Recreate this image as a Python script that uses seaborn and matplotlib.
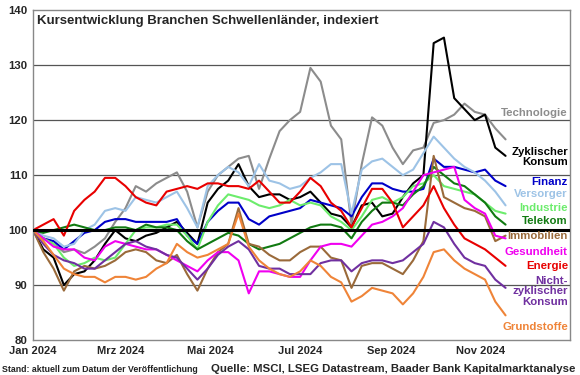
import pandas as pd
import seaborn as sns
import matplotlib.pyplot as plt
import matplotlib.transforms as mtransforms

# weekly readings, Jan 1 2024 .. Nov 18 2024 (index, start = 100)
dates = pd.date_range('2024-01-01', periods=47, freq='7D')

technologie = [100, 98.5, 97.5, 96, 96.5, 95.8, 97, 98.5, 101.5, 104, 108, 107, 108.5, 109.5, 110.5, 107,
               100.5, 107, 110, 111.5, 113, 113.5, 107.5, 113, 118, 120, 121.5, 129.5, 127, 119, 116.5, 101,
               112, 120.5, 119, 115, 112, 114.5, 115, 119.5, 120, 121, 123, 121.5, 121, 118.5, 116.5]
zykl_konsum = [100, 96.5, 95, 90, 92, 92.5, 94.5, 97.5, 100, 98.5, 98, 99, 99.5, 100.5, 101.5, 99.5,
               97.5, 105, 107.5, 109, 112, 108, 106, 106.5, 106.5, 105.5, 106, 107, 105, 103, 102.5, 100.5,
               104.5, 105, 102.5, 103, 106, 108.5, 110, 134, 135, 124, 122, 120, 121, 115, 113.5]
finanz = [100, 98.5, 98, 96.5, 98, 99.5, 100, 101.5, 102, 102, 101.5, 101.5, 101.5, 101.5, 102, 99,
          97.5, 101.5, 103.5, 105, 105, 102, 101, 102.5, 103, 103.5, 104, 105.5, 105, 104.5, 104, 102.5,
          106, 108.5, 108.5, 107.5, 107, 107, 107.5, 113, 111.5, 111.5, 111, 110.5, 111, 109, 108]
versorger = [100, 99, 98.5, 97, 97.5, 100, 101, 103.5, 104, 103.5, 106, 105.5, 105, 106, 107, 104,
             100.5, 108, 110, 111.5, 110.5, 108, 112, 109, 108.5, 107.5, 108, 109.5, 110.5, 112, 112, 103,
             111, 112.5, 113, 111.5, 110, 111, 114, 117, 115, 113, 111.5, 110.5, 109, 107, 104.5]
industrie = [100, 98.5, 97.5, 95, 93.5, 94, 95, 94.5, 95, 97.5, 100, 100.5, 100.5, 101, 101, 99,
             96.5, 101.5, 104.5, 106.5, 106, 105.5, 104.5, 104, 104.5, 105.5, 104.5, 105, 104.5, 102.5, 101.5, 100,
             102.5, 105.5, 106, 105, 106, 108, 108.5, 110, 108, 107.5, 107, 106.5, 105, 103.5, 103]
telekom = [100, 99.5, 100, 100.5, 101, 100.5, 100, 100, 100.5, 100.5, 100, 101, 100.5, 100.5, 100, 98,
           96.5, 97.5, 98.5, 99.5, 99, 97.5, 96.5, 97, 97.5, 98.5, 99.5, 100.5, 101, 101, 100.5, 98.5,
           101.5, 103.5, 105, 105, 104.5, 106.5, 108, 111.5, 110, 108.5, 108, 106.5, 105, 102.5, 101]
immobilien = [100, 96, 93, 89, 92.5, 93.5, 93, 93.5, 94.5, 96, 96.5, 96, 94.5, 94, 95.5, 92,
              89, 93, 96, 97.5, 104, 97.5, 97, 95.5, 94.5, 94.5, 96, 97, 97, 95, 94.5, 89.5,
              93.5, 94, 94, 93, 92, 94.5, 98, 113.5, 106, 105, 104, 103.5, 102.5, 98, 99]
gesundheit = [100, 98.5, 97, 96.5, 96.5, 95, 94.5, 97, 98, 97.5, 97, 96.5, 96.5, 95.5, 94.5, 93.5,
              92.5, 94.5, 96, 96, 94.5, 88.5, 92.5, 92.5, 92, 91.5, 91.5, 94.5, 97, 97.5, 97.5, 97,
              99, 101, 101.5, 102.5, 104, 107, 110, 110.5, 111, 111.5, 105.5, 104, 103, 99, 98.5]
energie = [100, 101, 102, 99, 103.5, 105.5, 107, 109.5, 109.5, 108, 106, 105, 104.5, 107, 107.5, 108,
           107.5, 108.5, 108.5, 108, 108, 107.5, 109, 107, 105, 105, 107, 109.5, 108, 105, 103.5, 100.5,
           104, 107.5, 107.5, 105, 100.5, 102.5, 104.5, 108, 104, 101, 98.5, 97.5, 96.5, 95, 93.5]
nicht_zykl = [100, 97.5, 95.5, 94.5, 94, 93, 93, 94.5, 96, 97.5, 98, 97, 96.5, 95.5, 95, 93,
              91, 93, 95.5, 97, 98, 96.5, 93.5, 93, 93, 92, 92, 92, 94, 94.5, 94.5, 92.5,
              94, 94.5, 94.5, 94, 94.5, 96, 97.5, 101.5, 100.5, 97.5, 95, 94, 93.5, 91, 89.5]
grundstoffe = [100, 98, 95.5, 93, 92, 91.5, 91.5, 90.5, 91.5, 91.5, 91, 91.5, 93, 94, 97.5, 96,
               95, 95.5, 96.5, 97.5, 103, 97, 94.5, 93, 92, 91.5, 92.5, 94.5, 93.5, 91.5, 90.5, 87,
               88, 89.5, 89, 88.5, 86.5, 88.5, 91.5, 96, 96.5, 94.5, 93, 92, 91, 87, 84.5]

sectors = ['Technologie', 'Zyklischer Konsum', 'Finanz', 'Versorger', 'Industrie', 'Telekom',
           'Immobilien', 'Gesundheit', 'Energie', 'Nicht-zyklischer Konsum', 'Grundstoffe']
series = [technologie, zykl_konsum, finanz, versorger, industrie, telekom,
          immobilien, gesundheit, energie, nicht_zykl, grundstoffe]
colors = ['#8c8c8c', '#000000', '#0000c8', '#9dc3e6', '#6cec6c', '#117a11',
          '#9a6a3a', '#f000f0', '#e80000', '#7030a0', '#ef8438']

# end labels: text and vertical position (index value)
end_labels = ['Technologie', 'Zyklischer\nKonsum', 'Finanz', 'Versorger', 'Industrie', 'Telekom',
              'Immobilien', 'Gesundheit', 'Energie', 'Nicht-\nzyklischer\nKonsum', 'Grundstoffe']
label_y = [121.3, 113.3, 108.7, 106.6, 104.0, 101.6, 98.9, 96.0, 93.5, 88.9, 82.4]

df = pd.concat([pd.DataFrame({'Datum': dates, 'Index': v, 'Branche': s})
                for s, v in zip(sectors, series)], ignore_index=True)

sns.set_style('white')
plt.rcParams['font.family'] = ['Liberation Sans', 'DejaVu Sans']

fig = plt.figure(figsize=(5.8, 3.75), dpi=100)
ax = fig.add_axes([0.057, 0.093, 0.926, 0.88])

sns.lineplot(data=df, x='Datum', y='Index', hue='Branche', hue_order=sectors,
             palette=dict(zip(sectors, colors)), linewidth=1.5, legend=False, ax=ax)

ax.axhline(100, color='black', linewidth=2.2, zorder=5)
for g in [90, 110, 120, 130]:
    ax.axhline(g, color='#555555', linewidth=0.9, zorder=0)

ax.set_xlim(pd.Timestamp('2024-01-01'), pd.Timestamp('2025-01-01'))
ax.set_ylim(80, 140)
ax.set_yticks(range(80, 141, 10))
tick_dates = pd.to_datetime(['2024-01-01', '2024-03-01', '2024-05-01',
                             '2024-07-01', '2024-09-01', '2024-11-01'])
tick_names = ['Jan 2024', 'Mrz 2024', 'Mai 2024', 'Jul 2024', 'Sep 2024', 'Nov 2024']
ax.set_xticks(tick_dates)
ax.set_xticklabels(tick_names)
ax.set_xlabel('')
ax.set_ylabel('')
ax.tick_params(axis='x', length=3, color='#777777', labelsize=8, pad=1)
ax.tick_params(axis='y', length=0, labelsize=8.2, pad=4)
for lab in ax.get_xticklabels() + ax.get_yticklabels():
    lab.set_fontweight('bold')
for sp in ax.spines.values():
    sp.set_color('#888888')
    sp.set_linewidth(1)

ax.text(0.007, 0.985, 'Kursentwicklung Branchen Schwellenländer, indexiert', transform=ax.transAxes,
        ha='left', va='top', fontsize=9.5, fontweight='bold')

trans = mtransforms.blended_transform_factory(ax.transAxes, ax.transData)
for txt, yv, c in zip(end_labels, label_y, colors):
    ax.text(0.996, yv, txt, transform=trans, ha='right', va='center', color=c,
            fontsize=8.2, fontweight='bold', linespacing=1.05, zorder=6)

fig.text(0.004, 0.004, 'Stand: aktuell zum Datum der Veröffentlichung', fontsize=6.3,
         fontweight='bold', ha='left', va='bottom', color='#222222')
fig.text(0.992, 0.004, 'Quelle: MSCI, LSEG Datastream, Baader Bank Kapitalmarktanalyse', fontsize=8.2,
         fontweight='bold', ha='right', va='bottom')

fig.savefig('out.png', dpi=100)
